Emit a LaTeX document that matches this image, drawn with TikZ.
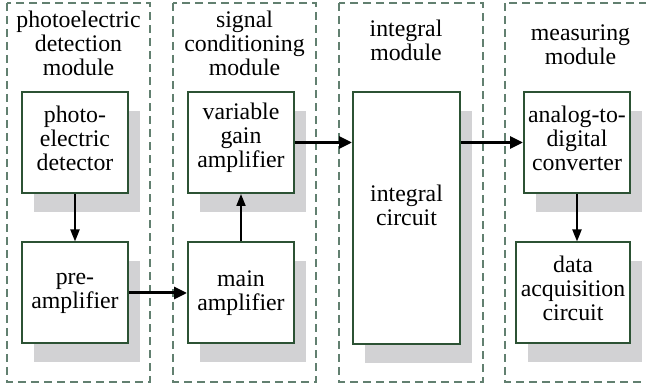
\documentclass[tikz,border=0pt]{standalone}
\usepackage{fontspec}
\setmainfont{Liberation Serif}
\usetikzlibrary{arrows.meta, shadows, calc}

\definecolor{boxline}{RGB}{44,82,52}
\definecolor{modline}{RGB}{98,128,112}
\definecolor{shade}{RGB}{210,210,212}

\tikzset{
  block/.style={draw=boxline, line width=2pt, fill=white, align=center,
    minimum width=106pt, minimum height=101pt, inner sep=0pt,
    drop shadow={shadow xshift=11.5pt, shadow yshift=-19pt, fill=shade, opacity=1}},
  lift/.style={text depth=#1},
  module/.style={draw=modline, line width=1.3pt, dash pattern=on 8pt off 5pt},
  title/.style={align=center},
  flow/.style={line width=2pt, -{Triangle[length=12pt,width=9pt]}},
  bigflow/.style={line width=3pt, -{Triangle[length=13pt,width=12pt]}},
}

\begin{document}
\begin{tikzpicture}[x=1pt,y=-1pt,font={\fontsize{23.8}{24}\selectfont}]
\clip (0,0) rectangle (646,387);
% dashed module frames
\draw[module] (7,3) rectangle (150,382);
\draw[module] (173,3) rectangle (316,382);
\draw[module] (339,3) rectangle (483,382);
\draw[module] (505,3) rectangle (652,382);
% module titles
\node[title] (t1) at (78.5,43.5) {photoelectric\\detection\\module};
\node[title] (t2) at (244.5,43.5) {signal\\conditioning\\module};
\node[title] (t3) at (406,40) {integral\\module};
\node[title] (t4) at (580.5,44.5) {measuring\\module};
% blocks
\node[block, lift=9pt] (det) at (75,142.5) {photo-\\electric\\detector};
\node[block] (pre) at (75,293) {pre-\\amplifier};
\node[block, lift=14pt] (vga) at (241,142.5) {variable\\gain\\amplifier};
\node[block] (main) at (241,293) {main\\amplifier};
\node[block, minimum width=107pt, minimum height=252pt] (integ) at (406.5,218) {};
\node[title] (integtxt) at ($(integ)+(0,-13)$) {integral\\circuit};
\node[block, lift=8pt] (adc) at (577,142.5) {analog-to-\\digital\\converter};
\node[block, lift=10pt, minimum width=114pt] (daq) at (573,293) {data\\acquisition\\circuit};
% signal path
\draw[flow] (det) -- (pre);
\draw[bigflow] (pre) -- (main);
\draw[flow] (main) -- (vga);
\draw[bigflow] (vga.east) -- (vga.east -| integ.west);
\draw[bigflow] (integ.east |- adc.west) -- (adc.west);
\draw[flow] (adc.south) -- (adc.south |- daq.north);
\end{tikzpicture}
\end{document}
